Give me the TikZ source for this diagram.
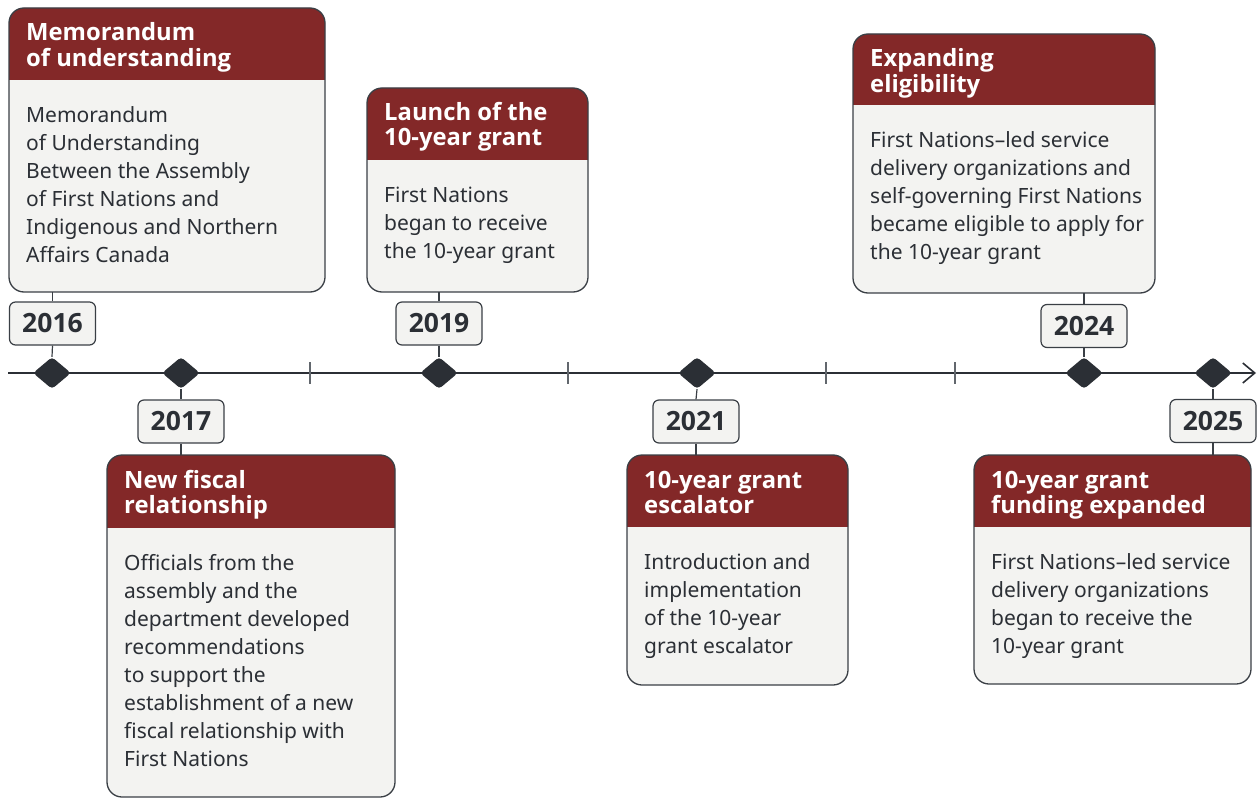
\documentclass[tikz,border=0pt]{standalone}
\usepackage{fontspec}
\setmainfont{Noto Sans}
\newfontfamily\hfont{Open Sans}
\usetikzlibrary{shapes.geometric,arrows.meta}
\definecolor{hdr}{HTML}{832828}
\definecolor{cardbg}{HTML}{F3F3F1}
\definecolor{ink}{HTML}{2B2F35}
\definecolor{tickc}{HTML}{62676D}
\definecolor{edge}{HTML}{3A3F45}
\newcommand\tlcard[8]{%
  \fill[cardbg, rounded corners=15pt] (#2,#3) rectangle (#4,#6);
  \begin{scope}
    \clip (#2-3,#3-3) rectangle (#4+3,#5);
    \fill[hdr, rounded corners=15pt] (#2,#3) rectangle (#4,#6);
  \end{scope}
  \draw[edge, line width=1.3pt, rounded corners=15pt] (#2,#3) rectangle (#4,#6);
  \node[hdrtext] (#1-title) at (#2+17,#3+33) {\begin{tabular}[t]{@{}l@{}}#7\end{tabular}};
  \node[bodytext] (#1-body) at (#2+17,#5+43) {\begin{tabular}[t]{@{}l@{}}#8\end{tabular}};
  \coordinate (#1-top) at (#2,#3);
  \coordinate (#1-bot) at (#2,#6);
}
\begin{document}
\begin{tikzpicture}[x=1pt,y=-1pt,
  yearbox/.style={draw=edge, line width=1.2pt, fill=cardbg, rounded corners=6pt,
    minimum width=86pt, minimum height=43pt, inner sep=0pt,
    font=\hfont\fontsize{26.5}{30}\selectfont\bfseries, text=ink},
  event/.style={diamond, fill=ink, minimum width=38pt, minimum height=32pt,
    inner sep=0pt, rounded corners=3.5pt},
  hdrtext/.style={anchor=base west, inner sep=0pt, text=white,
    font=\hfont\fontsize{23.8}{24}\selectfont\bfseries},
  bodytext/.style={anchor=base west, inner sep=0pt, text=ink,
    font=\fontsize{21}{28}\selectfont},
  link/.style={draw=edge, line width=1.2pt},
  tickmark/.style={draw=tickc, line width=1.4pt},
  axis/.style={draw=ink, line width=2.4pt,
    -{Straight Barb[length=12pt,width=20pt,line width=1.6pt]}}]
\useasboundingbox (0,0) rectangle (1257,799);

% cards
\tlcard{c16}{9}{8}{325}{80}{292}{Memorandum\\of understanding}
  {Memorandum\\of Understanding\\Between the Assembly\\of First Nations and\\Indigenous and Northern\\Affairs Canada}
\tlcard{c19}{367}{88}{588}{160}{292}{Launch of the\\10-year grant}
  {First Nations\\began to receive\\the 10-year grant}
\tlcard{c24}{853}{34}{1155}{105}{293}{Expanding\\eligibility}
  {First Nations–led service\\delivery organizations and\\self-governing First Nations\\became eligible to apply for\\the 10-year grant}
\tlcard{c17}{107}{455}{395}{527}{797}{New fiscal\\relationship}
  {Officials from the\\assembly and the\\department developed\\recommendations\\to support the\\establishment of a new\\fiscal relationship with\\First Nations}
\tlcard{c21}{627}{455}{848}{526}{685}{10-year grant\\escalator}
  {Introduction and\\implementation\\of the 10-year\\grant escalator}
\tlcard{c25}{974}{455}{1251}{526}{684}{10-year grant\\funding expanded}
  {First Nations–led service\\delivery organizations\\began to receive the\\10-year grant}

% timeline
\coordinate (tl-start) at (8,373);
\coordinate (tl-end) at (1256,373);
\draw[axis] (tl-start) -- (tl-end);
\foreach \tx in {310,568,826,955}
  \draw[tickmark] (\tx,362) -- (\tx,384);

% year boxes and events
\node[yearbox] (y16) at (52.5,323.5) {2016};
\node[yearbox] (y17) at (181,421.5) {2017};
\node[yearbox] (y19) at (439,323.5) {2019};
\node[yearbox] (y21) at (696,421.5) {2021};
\node[yearbox] (y24) at (1084,326) {2024};
\node[yearbox] (y25) at (1213,421) {2025};

\node[event] (d16) at (52,373) {};
\node[event] (d17) at (181,373) {};
\node[event] (d19) at (439,373) {};
\node[event] (d21) at (697,373) {};
\node[event] (d24) at (1084,373) {};
\node[event] (d25) at (1213,373) {};

% connectors
\draw[link] (y16.south) -- (d16.north);
\draw[link] (y16.north) -- (y16.north |- c16-bot);
\draw[link] (y19.south) -- (d19.north);
\draw[link] (y19.north) -- (y19.north |- c19-bot);
\draw[link] (y24.south) -- (d24.north);
\draw[link] (y24.north) -- (y24.north |- c24-bot);
\draw[link] (d17.south) -- (y17.north);
\draw[link] (y17.south) -- (y17.south |- c17-top);
\draw[link] (d21.south) -- (y21.north);
\draw[link] (y21.south) -- (y21.south |- c21-top);
\draw[link] (d25.south) -- (y25.north);
\draw[link] (y25.south) -- (y25.south |- c25-top);
\end{tikzpicture}
\end{document}
